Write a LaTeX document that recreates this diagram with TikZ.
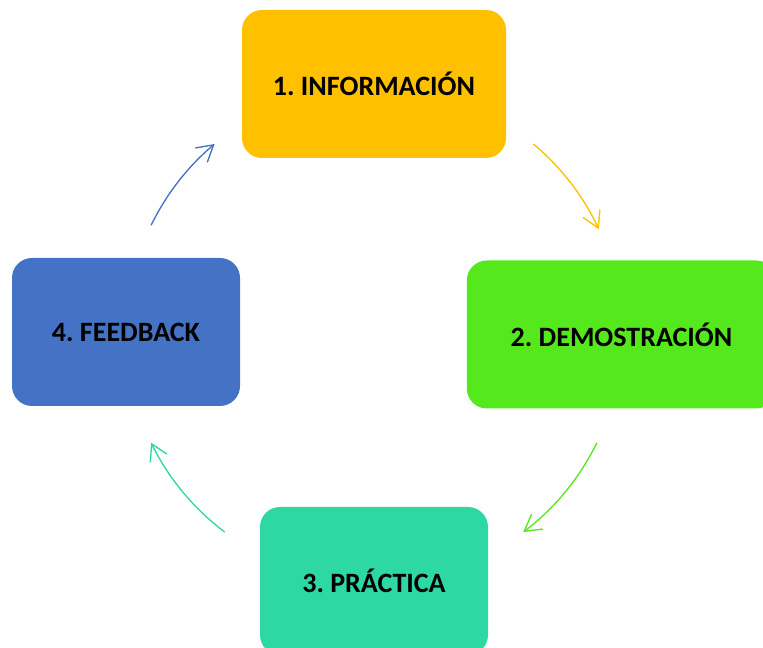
\documentclass[tikz,border=0pt]{standalone}
\usepackage{fontspec}
\setmainfont{Carlito}
\usetikzlibrary{arrows.meta}
\definecolor{naranja}{HTML}{FFC000}
\definecolor{verde}{HTML}{55E81C}
\definecolor{turquesa}{HTML}{2ED8A3}
\definecolor{azul}{HTML}{4472C4}
\frenchspacing
\begin{document}
\begin{tikzpicture}[x=0.75pt,y=0.75pt,
  caja/.style={rectangle,rounded corners=15pt,inner sep=0pt,minimum height=111pt,font=\fontsize{21}{25}\selectfont\bfseries},
  flecha/.style={-{Straight Barb[length=12pt,width=14pt]},line width=1pt}]

\useasboundingbox (0,0) rectangle (763,648);
\clip (0,0) rectangle (763,648);

\coordinate (centro) at (374,314);

\node[caja,fill=naranja,minimum width=198pt] (1) at (374,564) {1. INFORMACIÓN};

\node[caja,fill=verde,minimum width=232pt] (2) at (621.5,313.5) {2. DEMOSTRACIÓN};

\node[caja,fill=turquesa,minimum width=171pt] (3) at (374,67) {3. PRÁCTICA};

\node[caja,fill=azul,minimum width=171pt] (4) at (126,316) {4. FEEDBACK};

\draw[flecha,naranja] (centro) ++(50:186pt) arc[start angle=50,end angle=25,radius=186pt];
\draw[flecha,verde] (centro) ++(-26:186pt) arc[start angle=-26,end angle=-53,radius=186pt];
\draw[flecha,turquesa] (centro) ++(-127:186pt) arc[start angle=-127,end angle=-154,radius=186pt];
\draw[flecha,azul] (centro) ++(154:186pt) arc[start angle=154,end angle=130,radius=186pt];

\end{tikzpicture}
\end{document}
